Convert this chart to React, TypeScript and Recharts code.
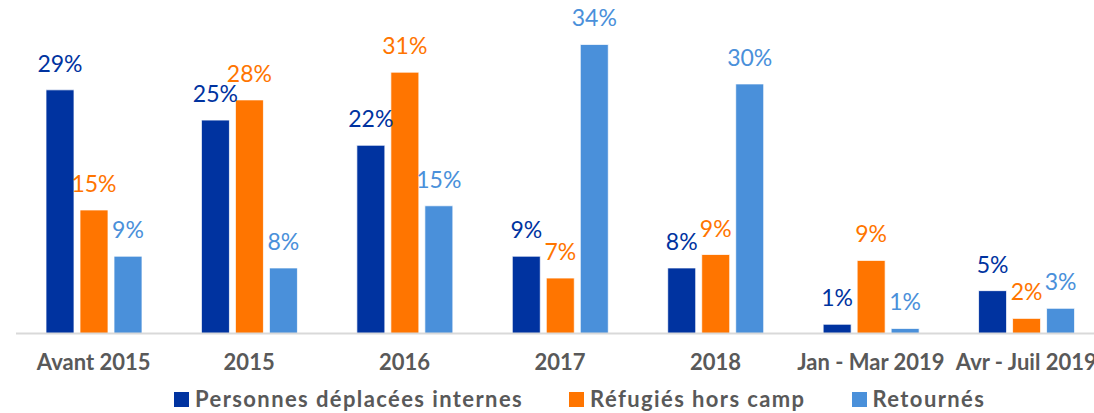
import React from "react";
import { BarChart, Bar, XAxis, YAxis, LabelList } from "recharts";

const categories = ["Avant 2015", "2015", "2016", "2017", "2018", "Jan - Mar 2019", "Avr - Juil 2019"];
const idp = [29.0, 25.4, 22.4, 9.2, 7.8, 1.1, 5.1];
const refugies = [14.7, 27.8, 31.1, 6.6, 9.4, 8.7, 1.8];
const retournes = [9.2, 7.8, 15.2, 34.4, 29.7, 0.6, 3.0];

const seriesNames = ["Personnes déplacées internes", "Réfugiés hors camp", "Retournés"];
const seriesKeys = ["idp", "refugies", "retournes"];
const colors = ["#0033A0", "#FF7500", "#4A90DA"];

const data = categories.map((c, i) => ({ cat: c, idp: idp[i], refugies: refugies[i], retournes: retournes[i] }));

const FONT = "Lato, 'Open Sans', sans-serif";
const fmt = (v: any) => `${Math.round(Number(v))}%`;

export default function App() {
  return (
    <div style={{ position: "absolute", top: 0, left: 0, width: 1094, height: 413, overflow: "hidden", background: "#fff", fontFamily: FONT }}>
      <BarChart
        width={1110}
        height={413}
        data={data}
        margin={{ top: 31, right: 6, left: 16, bottom: 49.5 }}
        barSize={28}
        barGap={6}
      >
        <XAxis
          dataKey="cat"
          interval={0}
          axisLine={{ stroke: "#D9D9D9", strokeWidth: 2 }}
          tickLine={false}
          tickMargin={15}
          height={30}
          tick={{ fill: "#595959", fontSize: 22, fontWeight: 700, fontFamily: FONT }}
        />
        <YAxis hide domain={[0, 36]} />
        {seriesKeys.map((k, i) => (
          <Bar key={k} dataKey={k} name={seriesNames[i]} fill={colors[i]} stroke="#ffffff" strokeWidth={0.75} isAnimationActive={false}>
            <LabelList dataKey={k} position="top" offset={18} formatter={fmt} fill={colors[i]} fontSize={23} fontFamily={FONT} />
          </Bar>
        ))}
      </BarChart>
      <div style={{ position: "absolute", left: 174, top: 385, display: "flex", alignItems: "center", gap: 46 }}>
        {seriesNames.map((n, i) => (
          <div key={n} style={{ display: "flex", alignItems: "center" }}>
            <span style={{ display: "inline-block", width: 15, height: 15, background: colors[i], marginRight: 6 }} />
            <span style={{ color: "#595959", fontSize: 22, fontWeight: 700, fontFamily: FONT, letterSpacing: 1.4, lineHeight: "28px" }}>{n}</span>
          </div>
        ))}
      </div>
    </div>
  );
}
